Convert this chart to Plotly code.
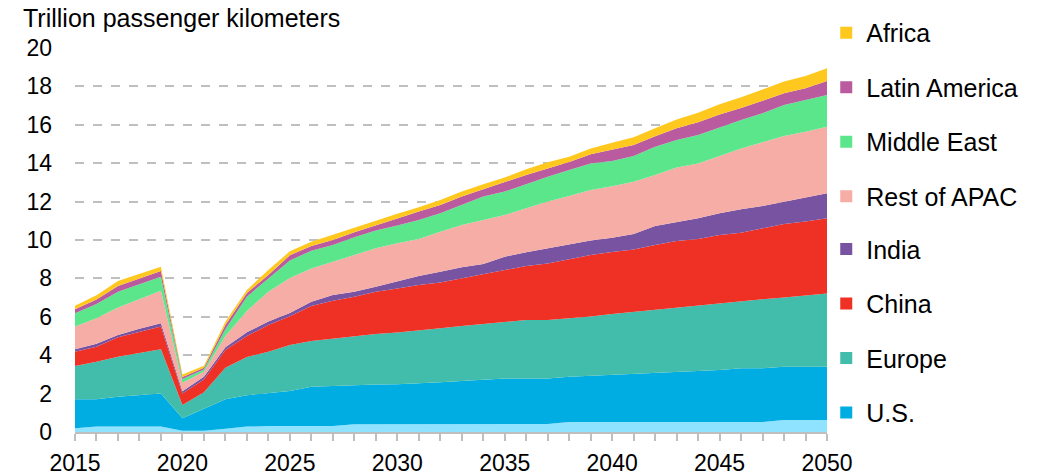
import plotly.graph_objects as go


# ==========================================================
# Data (trillion passenger kilometers)
# ==========================================================

years = list(range(2015, 2051))

other = [0.19, 0.28, 0.28, 0.28, 0.28, 0.07, 0.07, 0.17, 0.28, 0.31, 0.31, 0.31,
         0.31, 0.40, 0.40, 0.42, 0.42, 0.42, 0.42, 0.42, 0.42, 0.42, 0.42, 0.52,
         0.52, 0.52, 0.52, 0.52, 0.52, 0.52, 0.52, 0.52, 0.52, 0.62, 0.62, 0.62]

us = [1.51, 1.42, 1.56, 1.65, 1.73, 0.64, 1.13, 1.53, 1.63, 1.70, 1.83, 2.05,
      2.09, 2.05, 2.07, 2.07, 2.11, 2.17, 2.24, 2.29, 2.36, 2.37, 2.37, 2.36,
      2.41, 2.46, 2.50, 2.57, 2.59, 2.67, 2.71, 2.80, 2.80, 2.78, 2.78, 2.78]

europe = [1.74, 1.96, 2.08, 2.20, 2.30, 0.70, 0.87, 1.65, 1.99, 2.17, 2.39, 2.38,
          2.46, 2.52, 2.63, 2.69, 2.75, 2.81, 2.86, 2.92, 2.95, 3.04, 3.04, 3.04,
          3.08, 3.16, 3.23, 3.26, 3.38, 3.41, 3.45, 3.47, 3.59, 3.60, 3.70, 3.82]

china = [0.74, 0.78, 1.01, 1.10, 1.18, 0.60, 0.67, 0.92, 1.10, 1.39, 1.50, 1.82,
         1.98, 2.08, 2.21, 2.30, 2.38, 2.38, 2.48, 2.55, 2.67, 2.82, 2.95, 3.07,
         3.21, 3.24, 3.26, 3.39, 3.46, 3.45, 3.58, 3.59, 3.70, 3.83, 3.87, 3.91]

india = [0.13, 0.16, 0.12, 0.15, 0.17, 0.11, 0.14, 0.14, 0.20, 0.18, 0.17, 0.23,
         0.30, 0.26, 0.26, 0.37, 0.47, 0.57, 0.58, 0.57, 0.73, 0.71, 0.79, 0.75,
         0.75, 0.74, 0.80, 0.99, 1.00, 1.08, 1.13, 1.22, 1.16, 1.17, 1.25, 1.30]

rest_apac = [1.18, 1.32, 1.44, 1.53, 1.70, 0.45, 0.26, 0.59, 1.10, 1.56, 1.82, 1.73,
             1.73, 1.91, 2.00, 1.98, 1.92, 2.08, 2.20, 2.29, 2.17, 2.29, 2.43, 2.55,
             2.63, 2.68, 2.73, 2.66, 2.83, 2.86, 2.99, 3.17, 3.32, 3.42, 3.42, 3.47]

middle_east = [0.69, 0.75, 0.82, 0.78, 0.73, 0.19, 0.12, 0.35, 0.75, 0.69, 0.91, 0.92,
               0.87, 0.92, 0.92, 0.92, 0.99, 0.96, 1.04, 1.22, 1.22, 1.27, 1.30, 1.36,
               1.39, 1.32, 1.34, 1.47, 1.43, 1.48, 1.49, 1.48, 1.51, 1.61, 1.65, 1.65]

latin_america = [0.21, 0.23, 0.29, 0.31, 0.30, 0.10, 0.08, 0.22, 0.19, 0.18, 0.27, 0.25,
                 0.26, 0.26, 0.29, 0.37, 0.44, 0.43, 0.44, 0.38, 0.47, 0.47, 0.43, 0.41,
                 0.47, 0.57, 0.57, 0.54, 0.61, 0.66, 0.67, 0.62, 0.67, 0.61, 0.62, 0.73]

africa = [0.19, 0.22, 0.26, 0.25, 0.22, 0.14, 0.11, 0.17, 0.16, 0.26, 0.21, 0.22,
          0.26, 0.24, 0.22, 0.25, 0.22, 0.26, 0.26, 0.26, 0.27, 0.29, 0.32, 0.28,
          0.31, 0.38, 0.40, 0.42, 0.46, 0.50, 0.53, 0.56, 0.58, 0.61, 0.63, 0.66]

# bottom to top
series = [
    ("Other", other, "#8FE3FF"),
    ("U.S.", us, "#00ADE2"),
    ("Europe", europe, "#43BDAB"),
    ("China", china, "#EE3124"),
    ("India", india, "#7853A2"),
    ("Rest of APAC", rest_apac, "#F6ADA6"),
    ("Middle East", middle_east, "#5CE68B"),
    ("Latin America", latin_america, "#BA5BA0"),
    ("Africa", africa, "#FFC81E"),
]

legend_top = ["Africa", "Latin America", "Middle East", "Rest of APAC"]
legend_bottom = ["India", "China", "Europe", "U.S."]

FONT = "Liberation Sans, Arial, sans-serif"
GREY = "#BFBFBF"


# ==========================================================
# Stacked area chart
# ==========================================================

def passenger_chart():

    fig = go.Figure()

    for name, values, color in series:
        fig.add_trace(go.Scatter(
            x=years,
            y=values,
            name=name,
            mode="lines",
            stackgroup="one",
            line=dict(width=0, color=color),
            fillcolor=color,
            showlegend=False
        ))

    colors = {name: color for name, _, color in series}

    # legend-only square markers, split over two legends
    for legend_id, names in (("legend", legend_top), ("legend2", legend_bottom)):
        for name in names:
            fig.add_trace(go.Scatter(
                x=[None],
                y=[None],
                mode="markers",
                name=name,
                legend=legend_id,
                legendgroup=name,
                marker=dict(symbol="square", size=12, color=colors[name]),
            ))

    legend_style = dict(
        x=0.999,
        xanchor="left",
        yanchor="top",
        traceorder="grouped",
        tracegroupgap=19,
        itemwidth=30,
        font=dict(size=25),
        bgcolor="rgba(0,0,0,0)"
    )

    fig.update_layout(
        width=1037,
        height=475,
        margin=dict(l=75, r=210, t=48, b=43, autoexpand=False),
        plot_bgcolor="white",
        paper_bgcolor="white",
        font=dict(family=FONT, size=23, color="black"),
        legend=dict(y=1.099, **legend_style),
        legend2=dict(y=0.536, **legend_style),
        annotations=[dict(
            text="Trillion passenger kilometers",
            xref="paper", yref="paper",
            x=0, y=1,
            xanchor="left", yanchor="middle",
            xshift=-54, yshift=30,
            showarrow=False,
            font=dict(size=25)
        )]
    )

    fig.update_xaxes(
        range=[2015, 2050],
        dtick=5,
        tick0=2015,
        ticks="outside",
        ticklen=7,
        tickwidth=2,
        tickcolor=GREY,
        minor=dict(dtick=1, ticks="outside", ticklen=7, tickwidth=2, tickcolor=GREY),
        showline=True,
        linecolor=GREY,
        linewidth=2,
        showgrid=False,
        zeroline=False,
        automargin=False,
        ticklabelstandoff=2
    )

    fig.update_yaxes(
        range=[0, 20],
        dtick=2,
        showgrid=True,
        gridcolor=GREY,
        gridwidth=1.5,
        griddash="dash",
        zeroline=False,
        showline=False,
        ticks="",
        automargin=False,
        ticklabelstandoff=22
    )

    return fig


fig = passenger_chart()
# drop the browser's default body margin so the figure sits at the page corner
fig.write_html(
    "out.html",
    config={"displayModeBar": False},
    post_script="document.body.style.margin = '0';"
)
